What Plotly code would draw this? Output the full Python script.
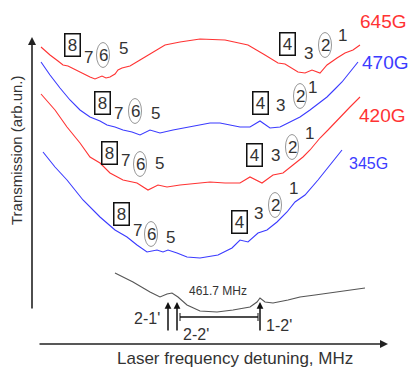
import plotly.graph_objects as go

# ---- data (detuning position, transmission level in plot units; y grows downward) ----
x_645 = [41, 50, 58, 63, 68, 72, 78, 85, 90, 95, 99, 102, 106, 110, 115, 118, 122, 126, 130, 140, 153, 165,
         180, 200, 225, 248, 265, 273, 278, 285, 291, 298, 305, 312, 320, 327, 337, 345, 353, 360]
y_645 = [47, 55, 61, 65, 66, 68, 71, 75, 77, 79, 77, 76, 78, 77, 74, 70, 68, 67, 66, 60, 52, 45,
         42, 39, 40, 45, 55, 60, 63, 64, 68, 72, 73, 70, 73, 65, 58, 53, 50, 45]

x_470 = [41, 50, 60, 70, 80, 90, 100, 107, 115, 123, 132, 140, 150, 160, 173, 190, 210, 220, 240, 250, 260,
         270, 280, 290, 300, 310, 320, 327, 335, 342, 350, 358]
y_470 = [62, 75, 88, 100, 110, 117, 121, 125, 127, 130, 132, 135, 130, 133, 130, 127, 123, 123, 127, 127, 121,
         128, 127, 122, 117, 110, 102, 97, 89, 82, 72, 62]

x_420 = [41, 55, 67, 80, 90, 100, 110, 123, 137, 148, 158, 167, 180, 197, 210, 225, 240, 250, 262, 273, 283,
         293, 303, 310, 320, 328, 342, 350, 360]
y_420 = [94, 110, 127, 143, 157, 163, 173, 180, 183, 190, 185, 187, 185, 183, 182, 183, 183, 177, 183, 175, 173,
         165, 157, 150, 138, 130, 115, 107, 97]

x_345 = [43, 55, 67, 83, 100, 115, 127, 137, 147, 157, 163, 168, 177, 187, 200, 218, 232, 240, 248, 258, 267,
         277, 287, 295, 305, 318, 330, 342]
y_345 = [152, 167, 180, 200, 217, 230, 237, 245, 252, 250, 252, 250, 253, 257, 258, 255, 248, 240, 242, 233, 230,
         222, 212, 202, 195, 180, 165, 150]

x_ref = [115, 133, 150, 160, 167, 172, 178, 187, 200, 217, 233, 250, 257, 260, 265, 273, 288, 300, 315, 338, 365]
y_ref = [273, 282, 292, 297, 294, 293, 297, 305, 311, 312, 310, 307, 302, 298, 302, 303, 300, 297, 295, 292, 288]

fields = ["645G", "470G", "420G", "345G"]
field_colors = ["#ff3333", "#3b3bff", "#ff3333", "#3b3bff"]

left_labels = ["8", "7", "6", "5"]
right_labels = ["4", "3", "2", "1"]
boxed = ["8", "4"]
circled = ["6", "2"]

transitions = ["2-1'", "2-2'", "1-2'"]
interval_text = "461.7 MHz"

# ---- figure ----
fig = go.Figure()
curves = [(x_645, y_645, field_colors[0]), (x_470, y_470, field_colors[1]),
          (x_420, y_420, field_colors[2]), (x_345, y_345, field_colors[3])]
for xs, ys, c in curves:
    fig.add_trace(go.Scatter(x=xs, y=ys, mode="lines", line=dict(color=c, width=1.1), hoverinfo="skip"))
fig.add_trace(go.Scatter(x=x_ref, y=y_ref, mode="lines", line=dict(color="#555555", width=1.1), hoverinfo="skip"))

ann = []
shapes = []
FONT = "Liberation Sans, Arial, sans-serif"
TXT = "#333333"

# field labels
field_pos = [(383, 21, 19), (385, 62, 19), (382, 115, 19), (368, 163, 16)]
for (fx, fy, fs), t, c in zip(field_pos, fields, field_colors):
    ann.append(dict(x=fx, y=fy, text=t, showarrow=False, font=dict(family=FONT, size=fs, color=c)))

# hyperfine labels for each group
left_pos = [
    [(72, 45), (88, 57), (103, 55), (123, 48)],
    [(102, 103), (118, 113), (135, 111), (155, 113)],
    [(109, 153), (125, 160), (140, 164), (159, 163)],
    [(121, 214), (137, 230), (151, 234), (170, 237)],
]
right_pos = [
    [(287, 44), (308, 53), (325, 45), (342, 35)],
    [(260, 103), (280, 105), (300, 96), (312, 87)],
    [(254, 155), (275, 155), (292, 147), (309, 133)],
    [(239, 222), (258, 213), (275, 205), (293, 188)],
]
for grp_l, grp_r in zip(left_pos, right_pos):
    for labels, grp in ((left_labels, grp_l), (right_labels, grp_r)):
        for t, (lx, ly) in zip(labels, grp):
            a = dict(x=lx, y=ly, text=t, showarrow=False, font=dict(family=FONT, size=17, color=TXT))
            if t in boxed:
                a.update(bordercolor="#111111", borderwidth=1.5, borderpad=1, width=12, height=19)
            ann.append(a)
            if t in circled:
                shapes.append(dict(type="circle", xref="x", yref="y", x0=lx - 6.5, x1=lx + 6.5,
                                   y0=ly - 12.5, y1=ly + 12.5, line=dict(color="#8a8a8a", width=0.9)))

# axes arrows
ann.append(dict(x=32, y=37, ax=32, ay=310, xref="x", yref="y", axref="x", ayref="y", text="",
                showarrow=True, arrowhead=2, arrowsize=1, arrowwidth=1.6, arrowcolor="#222222"))
ann.append(dict(x=388, y=344, ax=38, ay=344, xref="x", yref="y", axref="x", ayref="y", text="",
                showarrow=True, arrowhead=2, arrowsize=1, arrowwidth=1.6, arrowcolor="#222222"))

ann.append(dict(x=16, y=150, text="Transmission (arb.un.)", textangle=-90, showarrow=False,
                font=dict(family=FONT, size=15, color=TXT)))
ann.append(dict(x=235, y=358, text="Laser frequency detuning, MHz", showarrow=False,
                font=dict(family=FONT, size=17, color=TXT)))

# reference transitions
for axx in (168, 177, 260):
    ann.append(dict(x=axx, y=302, ax=axx, ay=332, xref="x", yref="y", axref="x", ayref="y", text="",
                    showarrow=True, arrowhead=2, arrowsize=0.9, arrowwidth=1.5, arrowcolor="#111111"))
shapes.append(dict(type="line", xref="x", yref="y", x0=180, x1=258, y0=317, y1=317,
                   line=dict(color="#111111", width=1.5)))
for tx in (180, 258):
    shapes.append(dict(type="line", xref="x", yref="y", x0=tx, x1=tx, y0=313, y1=321,
                       line=dict(color="#111111", width=1)))
for t, (tx, ty) in zip(transitions, [(147, 318), (196, 334), (279, 325)]):
    ann.append(dict(x=tx, y=ty, text=t, showarrow=False, font=dict(family=FONT, size=16, color=TXT)))
ann.append(dict(x=218, y=291, text=interval_text, showarrow=False, font=dict(family=FONT, size=12, color=TXT)))

fig.update_layout(
    width=409, height=367, margin=dict(l=0, r=0, t=0, b=0),
    paper_bgcolor="white", plot_bgcolor="white", showlegend=False,
    xaxis=dict(range=[0, 409], visible=False, fixedrange=True),
    yaxis=dict(range=[367, 0], visible=False, fixedrange=True),
    annotations=ann, shapes=shapes,
)
fig.write_html("out.html", config={"displayModeBar": False},
               post_script="document.body.style.margin='0';document.body.style.overflow='hidden';")
